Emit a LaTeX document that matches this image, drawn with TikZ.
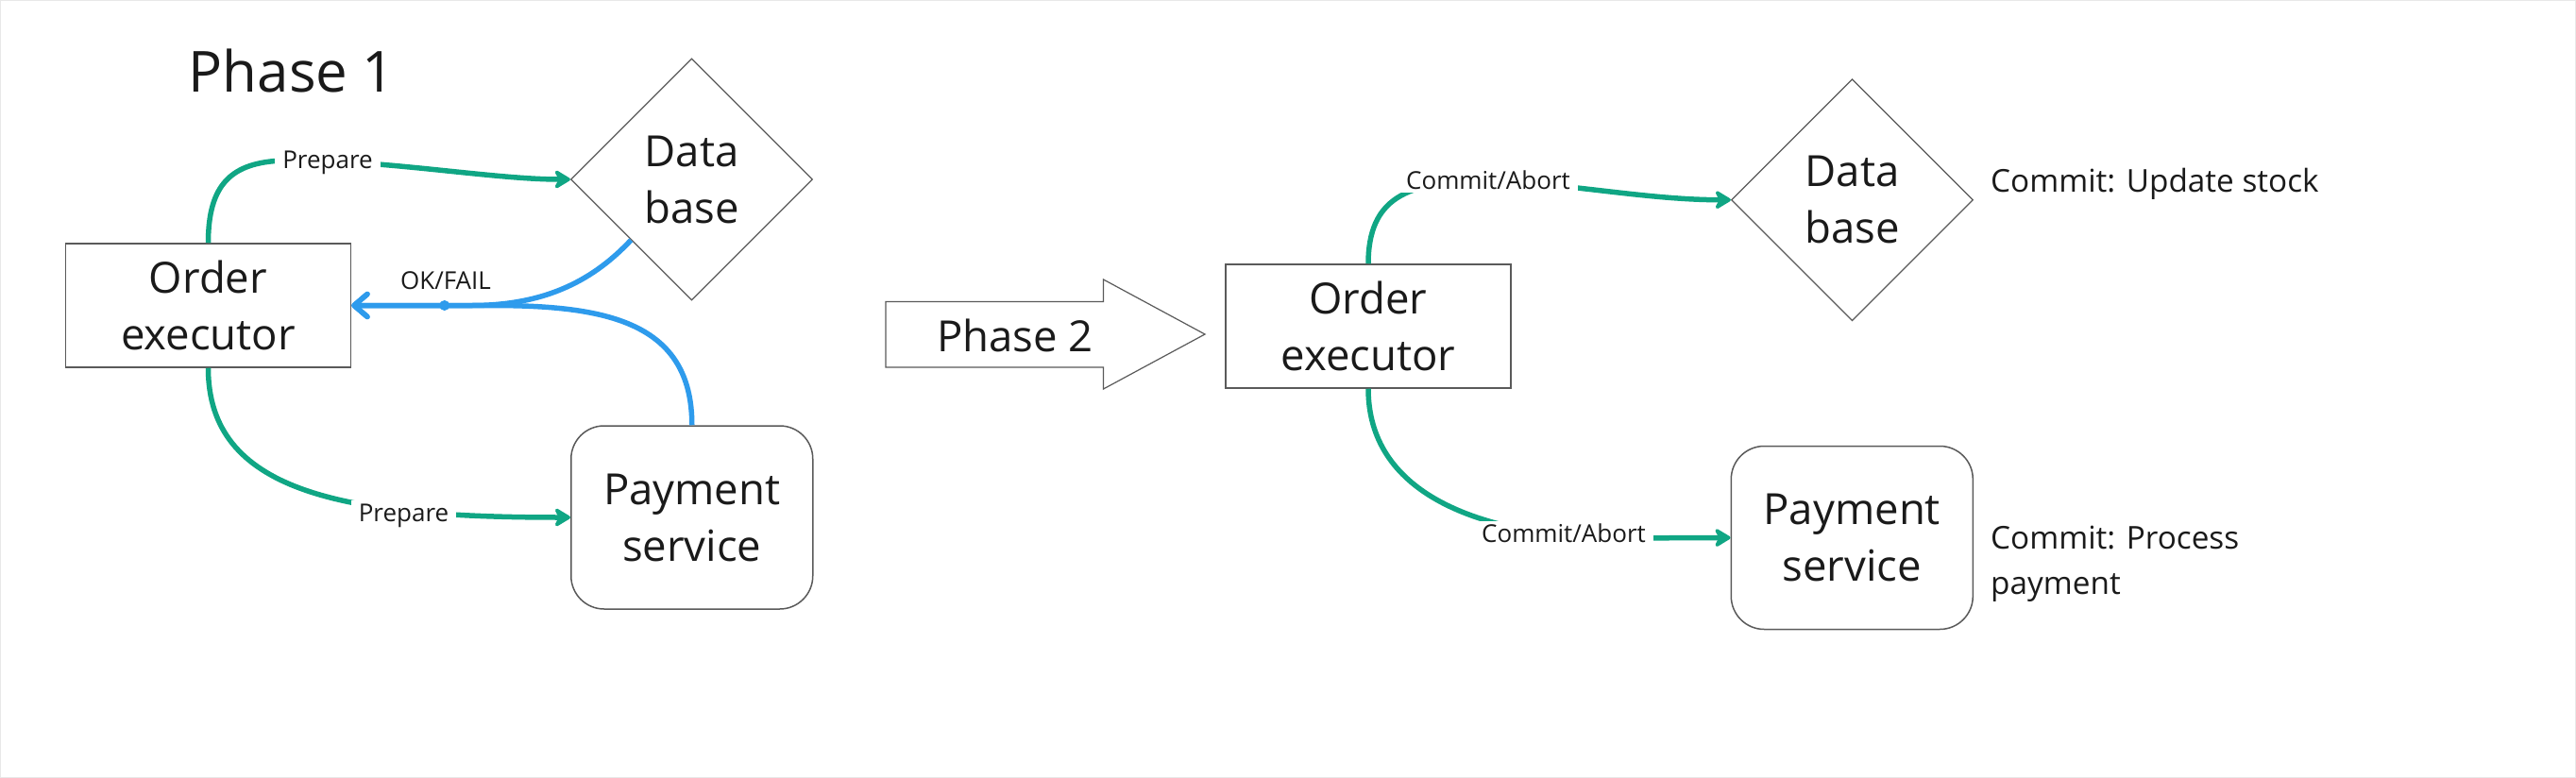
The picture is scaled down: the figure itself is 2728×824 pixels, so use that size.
\documentclass[tikz,border=0pt]{standalone}
\usepackage{fontspec}
\setmainfont{Open Sans}
\usetikzlibrary{arrows.meta,shapes.geometric}
\definecolor{flowgreen}{RGB}{16,166,132}
\definecolor{flowblue}{RGB}{46,155,236}
\definecolor{boxline}{RGB}{90,90,90}
\definecolor{ink}{RGB}{26,26,26}
\definecolor{frameline}{RGB}{232,232,232}
\begin{document}
\begin{tikzpicture}[x=1pt,y=-1pt,
  every node/.style={text=ink},
  nodefont/.style={font=\fontsize{45.5}{60}\selectfont},
  procbox/.style={draw=boxline,line width=1.5pt,minimum width=302pt,minimum height=131pt,align=center,nodefont,inner sep=0pt},
  dbshape/.style={diamond,draw=boxline,line width=1.2pt,minimum width=256pt,minimum height=256pt,aspect=1,align=center,nodefont,inner sep=0pt},
  svcbox/.style={draw=boxline,line width=1.5pt,rounded corners=35pt,minimum width=256pt,minimum height=194pt,align=center,nodefont,inner sep=0pt},
  greenflow/.style={draw=flowgreen,line width=5.5pt,-{Stealth[length=20pt,width=24pt,inset=6pt,round]}},
  blueflow/.style={draw=flowblue,line width=5.5pt,-{Straight Barb[length=14pt,width=24pt,round]}},
  edgelabel/.style={font=\fontsize{26}{30}\selectfont,fill=white,inner xsep=8pt,inner ysep=3pt},
  notefont/.style={font=\fontsize{33.3}{48}\selectfont,align=left,inner sep=0pt}
]
\fill[white] (0,0) rectangle (2728,824);
\useasboundingbox (0,0) rectangle (2728,824);
\draw[frameline,line width=2pt] (0,0) rectangle (2728,824);

% Phase 1
\node[font=\fontsize{60}{70}\selectfont,anchor=base] (title1) at (309,98) {Phase 1};
\node[procbox] (oe1) at (220.5,323.5) {Order\\executor};
\node[dbshape] (db1) at (732.5,190) {Data\\base};
\node[svcbox] (ps1) at (732.75,548) {Payment\\service};

\draw[greenflow] (oe1.north) .. controls (220.5,195) and (245,172) .. (300,170) .. controls (400,168) and (520,190) .. (db1.west);
\draw[greenflow] (oe1.south) .. controls (220.5,520) and (360,548) .. (ps1.west);
\draw[blueflow] (db1.south west) .. controls (630,295) and (580,323.5) .. (500,323.5) -- (oe1.east);
\draw[blueflow] (ps1.north) .. controls (733,340) and (640,323.5) .. (520,323.5) -- (oe1.east);
\node[circle,fill=flowblue,inner sep=0pt,minimum size=11pt] (joint) at (470.7,323.5) {};
\node[edgelabel,fill=none,anchor=base] (okfail) at (472,306.7) {OK/FAIL};
\node[edgelabel,anchor=base] (prep1) at (347,178.6) {Prepare};
\node[edgelabel,anchor=base] (prep2) at (427.5,552) {Prepare};

% Phase 2 arrow
\draw[draw=boxline,line width=1.2pt,fill=white] (938,319.5) -- (1168.5,319.5) -- (1168.5,296) -- (1276,354) -- (1168.5,412) -- (1168.5,389) -- (938,389) -- cycle;
\node[nodefont] (p2) at (1075,355) {Phase 2};

% Phase 2
\node[procbox] (oe2) at (1449,345.5) {Order\\executor};
\node[dbshape] (db2) at (1961.5,211.7) {Data\\base};
\node[svcbox] (ps2) at (1961.3,569.5) {Payment\\service};

\draw[greenflow] (oe2.north) .. controls (1449,210) and (1490,192) .. (1570,192) .. controls (1650,192) and (1740,211.7) .. (db2.west);
\draw[greenflow] (oe2.south) .. controls (1449,520) and (1560,565) .. (1700,570) -- (ps2.west);
\node[edgelabel,anchor=base] (ca1) at (1576,200.3) {Commit/Abort};
\node[edgelabel,anchor=base] (ca2) at (1656,574.6) {Commit/Abort};

\node[notefont,anchor=base west] (note1) at (2108,203) {Commit: Update stock};
\node[notefont,anchor=north west] (note2) at (2108,557) {Commit: Process\\payment};
\end{tikzpicture}
\end{document}
